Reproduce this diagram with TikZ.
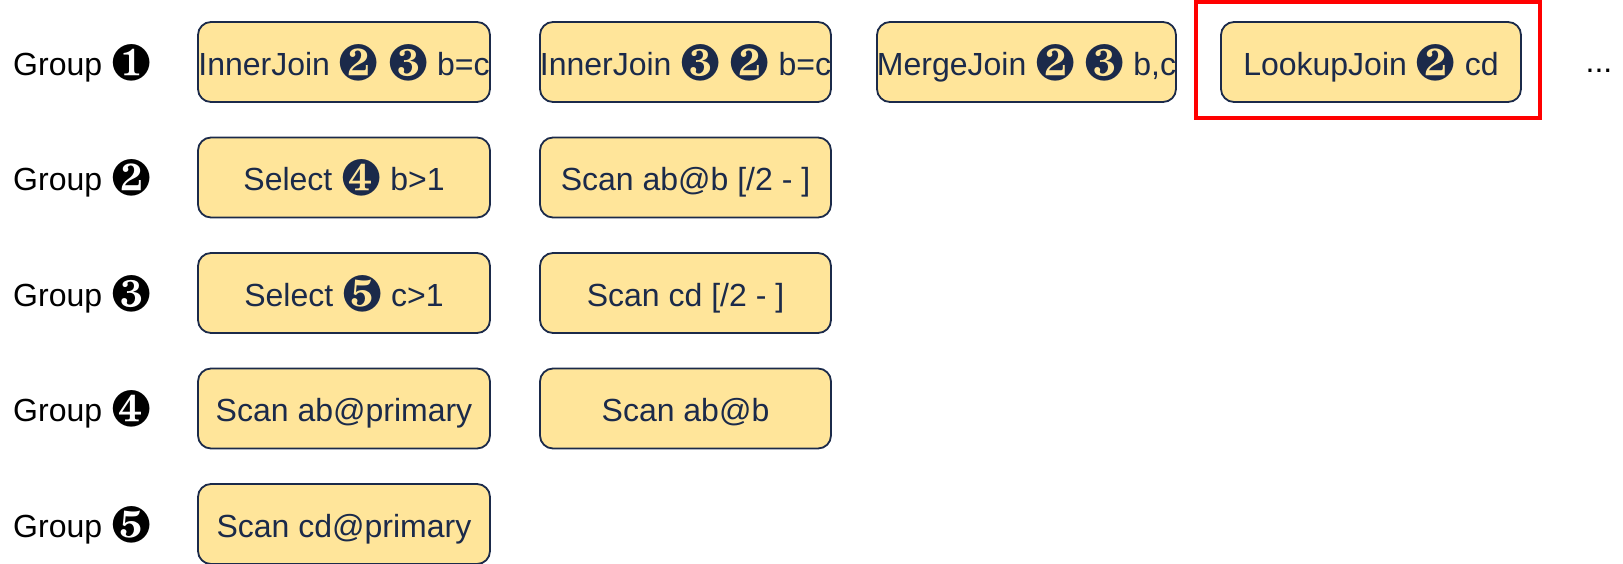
\documentclass[tikz,border=0pt]{standalone}
\usepackage{fontspec}
\setmainfont{Liberation Sans}
\usepackage{pifont}
\definecolor{navy}{HTML}{1B2A4A}
\definecolor{boxfill}{HTML}{FFE59A}
\definecolor{markred}{HTML}{FF0000}
% circled serif numeral, sized and lowered to sit on the text line
\newcommand{\gnum}[1]{\raisebox{-5pt}{\fontsize{51}{51}\selectfont\ding{\numexpr181+#1\relax}}}
\tikzset{
  opbox/.style={draw=navy, fill=boxfill, line width=1.8pt, rounded corners=13pt,
    text=navy, inner sep=0pt, minimum height=80pt, text height=30pt, text depth=4pt,
    font=\fontsize{32}{36}\selectfont},
  grouplabel/.style={anchor=base west, inner sep=0pt, text=black,
    font=\fontsize{32}{36}\selectfont},
  highlight/.style={draw=markred, line width=3.5pt}
}
\newcommand{\fixw}[1]{\makebox[0pt][c]{#1}}
\begin{document}
\begin{tikzpicture}[x=1pt, y=-1pt]
\useasboundingbox (0,0) rectangle (1623,563);

% group labels
\node[grouplabel] (g1) at (13,75)  {Group \gnum{1}};
\node[grouplabel] (g2) at (13,190.5) {Group \gnum{2}};
\node[grouplabel] (g3) at (13,306) {Group \gnum{3}};
\node[grouplabel] (g4) at (13,421.5) {Group \gnum{4}};
\node[grouplabel] (g5) at (13,537) {Group \gnum{5}};

% group 1
\node[opbox, minimum width=292pt] (b11) at (344,62) {\fixw{InnerJoin \gnum{2} \gnum{3} b=c}};
\node[opbox, minimum width=291pt] (b12) at (685.5,62) {\fixw{InnerJoin \gnum{3} \gnum{2} b=c}};
\node[opbox, minimum width=299pt] (b13) at (1026.5,62) {\fixw{MergeJoin \gnum{2} \gnum{3} b,c}};
\node[opbox, minimum width=300pt] (b14) at (1371,62) {\fixw{LookupJoin \gnum{2} cd}};
\node[highlight, inner sep=0pt, minimum width=344pt, minimum height=116pt] (hl) at (1368,60) {};
\node[anchor=base, inner sep=0pt, font=\fontsize{32}{36}\selectfont] (more) at (1599,72) {...};

% group 2
\node[opbox, minimum width=292pt] (b21) at (344,177.5) {\fixw{Select \gnum{4} b>1}};
\node[opbox, minimum width=291pt] (b22) at (685.5,177.5) {\fixw{Scan ab@b [/2 - ]}};

% group 3
\node[opbox, minimum width=292pt] (b31) at (344,293) {\fixw{Select \gnum{5} c>1}};
\node[opbox, minimum width=291pt] (b32) at (685.5,293) {\fixw{Scan cd [/2 - ]}};

% group 4
\node[opbox, minimum width=292pt] (b41) at (344,408.5) {\fixw{Scan ab@primary}};
\node[opbox, minimum width=291pt] (b42) at (685.5,408.5) {\fixw{Scan ab@b}};

% group 5
\node[opbox, minimum width=292pt] (b51) at (344,524) {\fixw{Scan cd@primary}};
\end{tikzpicture}
\end{document}
